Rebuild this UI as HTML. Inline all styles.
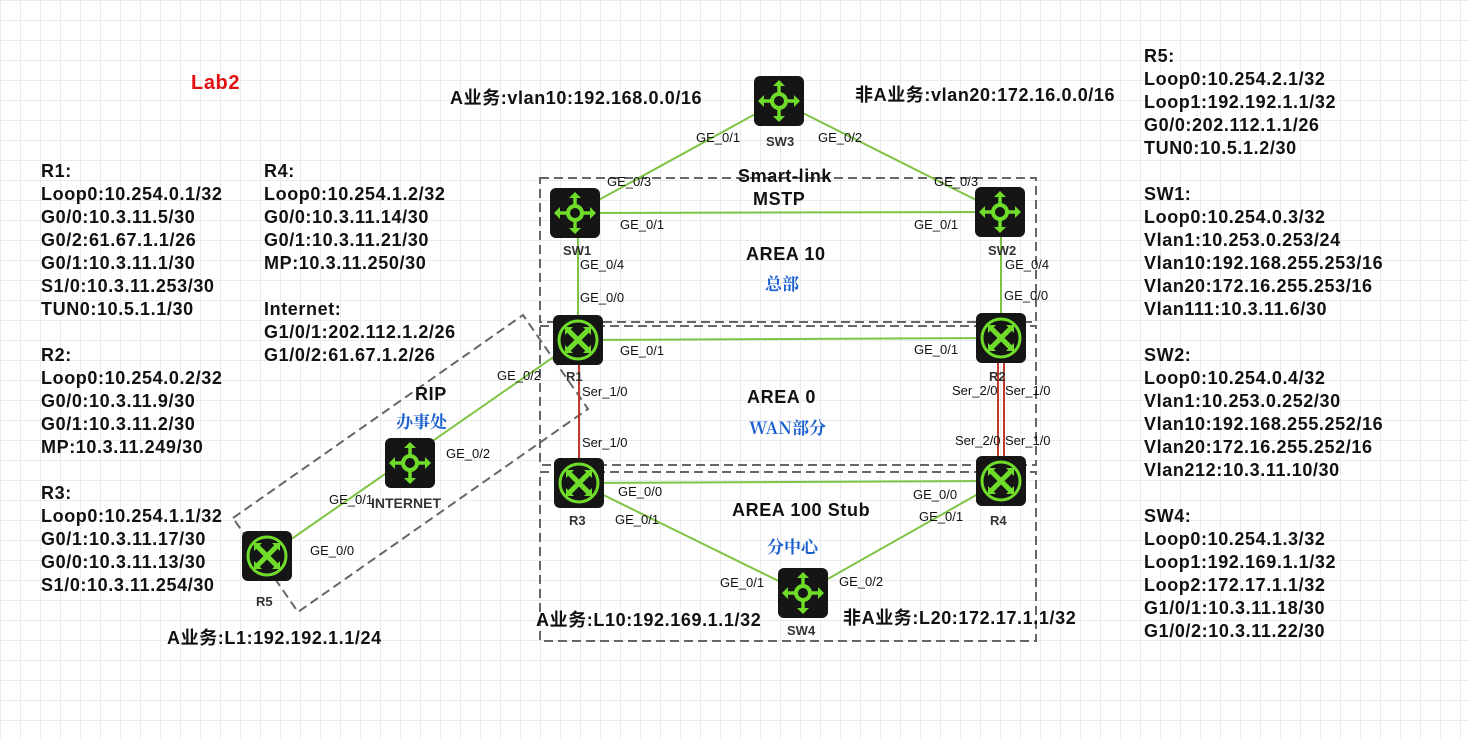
<!DOCTYPE html>
<html><head><meta charset="utf-8"><style>
body{margin:0;width:1469px;height:738px;overflow:hidden;background:#fff;
background-image:linear-gradient(#ebebeb 1px,transparent 1px),linear-gradient(90deg,#ebebeb 1px,transparent 1px);background-size:20px 20px;}
svg{position:absolute;left:0;top:0}
.b{font:bold 18px "Liberation Sans","Noto Sans CJK SC",sans-serif;letter-spacing:0.6px;fill:#111}
.s{font:13px "Liberation Sans",sans-serif;fill:#111}
.d{font:bold 13px "Liberation Sans",sans-serif;fill:#333}
.c{font:17px "Noto Serif CJK SC",serif;fill:#1a5fd0;font-weight:bold}
</style></head><body>
<svg width="1469" height="738" xmlns="http://www.w3.org/2000/svg">
<defs>
<g id="rt"><rect x="-25" y="-25" width="50" height="50" rx="6" fill="#151515"/><circle r="19" fill="none" stroke="#6fdc2a" stroke-width="3"/>
<path d="M-10-10L10 10M10-10L-10 10" stroke="#6fdc2a" stroke-width="5"/>
<path d="M-13-13h8l-8 8zM13-13h-8l8 8zM-13 13h8l-8-8zM13 13h-8l8-8z" fill="#6fdc2a"/></g>
<g id="sw"><rect x="-25" y="-25" width="50" height="50" rx="6" fill="#151515"/><circle r="7" fill="none" stroke="#6fdc2a" stroke-width="4"/>
<path d="M0-7V-17M0 7V17M-7 0H-17M7 0H17" stroke="#6fdc2a" stroke-width="3.5"/>
<path d="M0-21l-6 6h12zM0 21l-6-6h12zM-21 0l6-6v12zM21 0l-6-6v12z" fill="#6fdc2a"/></g>
</defs>
<g fill="none" stroke="#666" stroke-width="2" stroke-dasharray="9,5">
<rect x="540" y="178" width="496" height="144"/>
<rect x="540" y="326" width="496" height="139"/>
<rect x="540" y="472" width="496" height="169"/>
<polygon points="233,518 523,315 588,409 298,612"/>
</g>
<g stroke="#7dc444" stroke-width="2">
<line x1="575" y1="213" x2="779" y2="101"/><line x1="779" y1="101" x2="1000" y2="212"/>
<line x1="575" y1="213" x2="1000" y2="212"/><line x1="578" y1="213" x2="578" y2="340"/>
<line x1="1001" y1="212" x2="1001" y2="338"/><line x1="578" y1="340" x2="1001" y2="338"/>
<line x1="579" y1="483" x2="1001" y2="481"/><line x1="579" y1="483" x2="803" y2="593"/>
<line x1="1001" y1="481" x2="803" y2="593"/><line x1="267" y1="556" x2="578" y2="340"/>
</g>
<g stroke="#c0392b" stroke-width="2"><line x1="579" y1="340" x2="579" y2="483"/><line x1="998" y1="338" x2="998" y2="481"/><line x1="1004" y1="338" x2="1004" y2="481"/></g>
<use href="#sw" x="575" y="213"/><use href="#sw" x="1000" y="212"/><use href="#sw" x="779" y="101"/>
<use href="#sw" x="410" y="463"/><use href="#sw" x="803" y="593"/>
<use href="#rt" x="578" y="340"/><use href="#rt" x="1001" y="338"/><use href="#rt" x="579" y="483"/>
<use href="#rt" x="1001" y="481"/><use href="#rt" x="267" y="556"/>
<g class="d"><text x="563" y="255">SW1</text><text x="988" y="255">SW2</text><text x="766" y="146">SW3</text>
<text x="566" y="381">R1</text><text x="989" y="381">R2</text><text x="569" y="525">R3</text><text x="990" y="525">R4</text>
<text x="787" y="635">SW4</text><text x="256" y="606">R5</text><text x="371" y="508" style="font-size:14px">INTERNET</text></g>
<g class="s">
<text x="696" y="142">GE_0/1</text><text x="818" y="142">GE_0/2</text>
<text x="607" y="186">GE_0/3</text><text x="934" y="186">GE_0/3</text>
<text x="620" y="229">GE_0/1</text><text x="914" y="229">GE_0/1</text>
<text x="580" y="269">GE_0/4</text><text x="1005" y="269">GE_0/4</text>
<text x="580" y="302">GE_0/0</text><text x="1004" y="300">GE_0/0</text>
<text x="620" y="355">GE_0/1</text><text x="914" y="354">GE_0/1</text>
<text x="582" y="396">Ser_1/0</text><text x="952" y="395">Ser_2/0</text><text x="1005" y="395">Ser_1/0</text>
<text x="582" y="447">Ser_1/0</text><text x="955" y="445">Ser_2/0</text><text x="1005" y="445">Ser_1/0</text>
<text x="618" y="496">GE_0/0</text><text x="913" y="499">GE_0/0</text>
<text x="615" y="524">GE_0/1</text><text x="919" y="521">GE_0/1</text>
<text x="720" y="587">GE_0/1</text><text x="839" y="586">GE_0/2</text>
<text x="497" y="380">GE_0/2</text><text x="446" y="458">GE_0/2</text>
<text x="329" y="504">GE_0/1</text><text x="310" y="555">GE_0/0</text>
</g>
<text x="191" y="89" class="b" style="fill:#e01010;font-size:20px">Lab2</text>
<g class="b">
<text x="738" y="182">Smart-link</text><text x="753" y="205">MSTP</text>
<text x="746" y="260">AREA 10</text><text x="747" y="403">AREA 0</text><text x="732" y="516">AREA 100 Stub</text>
<text x="415" y="400">RIP</text>
<text x="450" y="104">A业务:vlan10:192.168.0.0/16</text><text x="855" y="101">非A业务:vlan20:172.16.0.0/16</text>
<text x="536" y="626">A业务:L10:192.169.1.1/32</text><text x="843" y="624">非A业务:L20:172.17.1.1/32</text>
<text x="167" y="644">A业务:L1:192.192.1.1/24</text>
</g>
<g class="c"><text x="765" y="290">总部</text><text x="749" y="434">WAN部分</text><text x="767" y="553">分中心</text><text x="396" y="428">办事处</text></g>
<g class="b">
<text x="41" y="177">R1:</text><text x="41" y="200">Loop0:10.254.0.1/32</text><text x="41" y="223">G0/0:10.3.11.5/30</text><text x="41" y="246">G0/2:61.67.1.1/26</text><text x="41" y="269">G0/1:10.3.11.1/30</text><text x="41" y="292">S1/0:10.3.11.253/30</text><text x="41" y="315">TUN0:10.5.1.1/30</text>
<text x="41" y="361">R2:</text><text x="41" y="384">Loop0:10.254.0.2/32</text><text x="41" y="407">G0/0:10.3.11.9/30</text><text x="41" y="430">G0/1:10.3.11.2/30</text><text x="41" y="453">MP:10.3.11.249/30</text>
<text x="41" y="499">R3:</text><text x="41" y="522">Loop0:10.254.1.1/32</text><text x="41" y="545">G0/1:10.3.11.17/30</text><text x="41" y="568">G0/0:10.3.11.13/30</text><text x="41" y="591">S1/0:10.3.11.254/30</text>
<text x="264" y="177">R4:</text><text x="264" y="200">Loop0:10.254.1.2/32</text><text x="264" y="223">G0/0:10.3.11.14/30</text><text x="264" y="246">G0/1:10.3.11.21/30</text><text x="264" y="269">MP:10.3.11.250/30</text>
<text x="264" y="315">Internet:</text><text x="264" y="338">G1/0/1:202.112.1.2/26</text><text x="264" y="361">G1/0/2:61.67.1.2/26</text>
<text x="1144" y="62">R5:</text><text x="1144" y="85">Loop0:10.254.2.1/32</text><text x="1144" y="108">Loop1:192.192.1.1/32</text><text x="1144" y="131">G0/0:202.112.1.1/26</text><text x="1144" y="154">TUN0:10.5.1.2/30</text>
<text x="1144" y="200">SW1:</text><text x="1144" y="223">Loop0:10.254.0.3/32</text><text x="1144" y="246">Vlan1:10.253.0.253/24</text><text x="1144" y="269">Vlan10:192.168.255.253/16</text><text x="1144" y="292">Vlan20:172.16.255.253/16</text><text x="1144" y="315">Vlan111:10.3.11.6/30</text>
<text x="1144" y="361">SW2:</text><text x="1144" y="384">Loop0:10.254.0.4/32</text><text x="1144" y="407">Vlan1:10.253.0.252/30</text><text x="1144" y="430">Vlan10:192.168.255.252/16</text><text x="1144" y="453">Vlan20:172.16.255.252/16</text><text x="1144" y="476">Vlan212:10.3.11.10/30</text>
<text x="1144" y="522">SW4:</text><text x="1144" y="545">Loop0:10.254.1.3/32</text><text x="1144" y="568">Loop1:192.169.1.1/32</text><text x="1144" y="591">Loop2:172.17.1.1/32</text><text x="1144" y="614">G1/0/1:10.3.11.18/30</text><text x="1144" y="637">G1/0/2:10.3.11.22/30</text>
</g>
</svg>
</body></html>
